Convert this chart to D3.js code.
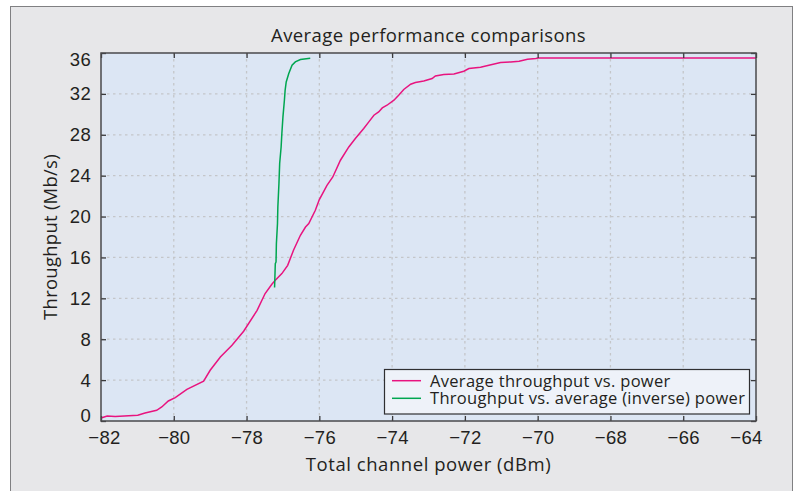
<!DOCTYPE html>
<html>
<head>
<meta charset="utf-8">
<script src="https://cdn.jsdelivr.net/npm/d3@7/dist/d3.min.js"></script>
<style>
  html, body { margin: 0; padding: 0; background: #ffffff; }
  svg { display: block; font-family: "Open Sans", "Noto Sans", sans-serif; }
</style>
</head>
<body>
<svg id="chart" width="797" height="491"></svg>
<script>
// Average throughput vs. total channel power
const powerAvg = [-82.00, -81.83, -81.61, -80.99, -80.79, -80.47, -80.33, -80.15, -79.96, -79.64,
  -79.18, -79.00, -78.72, -78.40, -78.08, -77.71, -77.49, -77.30, -77.21, -77.03,
  -76.87, -76.71, -76.52, -76.38, -76.29, -76.11, -76.00, -75.79, -75.63, -75.42,
  -75.19, -75.01, -74.78, -74.64, -74.50, -74.37, -74.27, -74.14, -73.95, -73.82,
  -73.68, -73.49, -73.36, -73.13, -72.90, -72.81, -72.58, -72.30, -72.03, -71.89,
  -71.57, -71.34, -71.02, -70.74, -70.51, -70.28, -70.05, -69.99, -64.00];
const throughputAvg = [0.30, 0.49, 0.43, 0.56, 0.78, 1.05, 1.37, 1.96, 2.29, 3.10,
  3.90, 4.96, 6.26, 7.41, 8.78, 10.83, 12.47, 13.40, 13.77, 14.42,
  15.23, 16.70, 18.17, 18.98, 19.32, 20.62, 21.66, 23.06, 23.87, 25.51,
  26.81, 27.63, 28.61, 29.26, 29.91, 30.23, 30.63, 30.89, 31.38, 31.87,
  32.43, 32.95, 33.11, 33.27, 33.50, 33.76, 33.89, 33.95, 34.22, 34.48,
  34.61, 34.80, 35.07, 35.13, 35.20, 35.39, 35.46, 35.52, 35.52];

// Throughput vs. average (inverse) power
const powerInv = [-77.23, -77.21, -77.19, -77.18, -77.15, -77.14, -77.11, -77.09, -77.05, -77.03,
  -77.00, -76.96, -76.94, -76.91, -76.84, -76.75, -76.66, -76.52, -76.25];
const throughputInv = [13.05, 15.40, 15.56, 17.36, 19.32, 20.94, 23.23, 25.19, 26.81, 28.12,
  29.75, 31.38, 32.36, 33.17, 33.99, 34.80, 35.13, 35.36, 35.49];

const xTicks = [-82, -80, -78, -76, -74, -72, -70, -68, -66, -64];
const yTicks = [0, 4, 8, 12, 16, 20, 24, 28, 32, 36];

const seriesNames = ["Average throughput vs. power", "Throughput vs. average (inverse) power"];
const seriesColors = ["#e8147f", "#00a650"];

const titleText = "Average performance comparisons";
const xLabel = "Total channel power (dBm)";
const yLabel = "Throughput (Mb/s)";

const svg = d3.select("#chart");
const W = 797, H = 491;
const plot = { left: 101, top: 53, right: 756, bottom: 421 };
const textColor = "#231f20";

// outer panel
svg.append("rect").attr("x", 0).attr("y", 0).attr("width", W).attr("height", H).attr("fill", "#ffffff");
svg.append("rect")
  .attr("x", 10.5).attr("y", 6.5).attr("width", 782).attr("height", 490)
  .attr("fill", "#e7e7e9").attr("stroke", "#808082").attr("stroke-width", 1);

const x = d3.scaleLinear().domain([-82, -64]).range([plot.left, plot.right]);
const y = d3.scaleLinear().domain([0, 36]).range([plot.bottom, plot.top]);

// plot background
svg.append("rect")
  .attr("x", plot.left).attr("y", plot.top)
  .attr("width", plot.right - plot.left).attr("height", plot.bottom - plot.top)
  .attr("fill", "#dce6f4");

// dotted grid
const grid = svg.append("g").attr("stroke", "#c4c6c9").attr("stroke-width", 1.3)
  .attr("stroke-dasharray", "2.5,3.5");
grid.selectAll(".gx").data(xTicks.slice(1, -1)).join("line")
  .attr("x1", d => x(d)).attr("x2", d => x(d))
  .attr("y1", plot.top).attr("y2", plot.bottom);
grid.selectAll(".gy").data(yTicks.slice(1, -1)).join("line")
  .attr("x1", plot.left).attr("x2", plot.right)
  .attr("y1", d => y(d)).attr("y2", d => y(d));

// series
const line = d3.line().x(d => x(d[0])).y(d => y(d[1]));
const avgData = d3.zip(powerAvg, throughputAvg);
const invData = d3.zip(powerInv, throughputInv);
svg.append("path").datum(avgData).attr("d", line)
  .attr("fill", "none").attr("stroke", seriesColors[0]).attr("stroke-width", 1.5);
svg.append("path").datum(invData).attr("d", line)
  .attr("fill", "none").attr("stroke", seriesColors[1]).attr("stroke-width", 1.5);

// axes with inward ticks on every side
function styleAxis(g) {
  g.select(".domain").remove();
  g.selectAll(".tick line").attr("stroke", "#3a3a3c").attr("stroke-width", 1.3);
  g.selectAll(".tick text").attr("fill", textColor).attr("font-size", 18.5)
    .attr("letter-spacing", 0.3);
}
const xAxis = svg.append("g").attr("transform", `translate(0,${plot.bottom})`)
  .call(d3.axisBottom(x).tickValues(xTicks).tickSize(-5).tickPadding(10).tickFormat(d3.format("d")))
  .call(styleAxis);
xAxis.selectAll(".tick text")
  .attr("dx", d => d === -82 ? 3 : d === -64 ? -10 : 0);

const yAxis = svg.append("g").attr("transform", `translate(${plot.left},0)`)
  .call(d3.axisLeft(y).tickValues(yTicks).tickSize(-5).tickPadding(10).tickFormat(d3.format("d")))
  .call(styleAxis);
yAxis.selectAll(".tick text")
  .attr("dy", d => d === 0 ? "0.0em" : d === 36 ? "0.66em" : "0.32em");

svg.append("g").attr("transform", `translate(0,${plot.top})`)
  .call(d3.axisTop(x).tickValues(xTicks).tickSize(-5).tickFormat(""))
  .call(styleAxis);
svg.append("g").attr("transform", `translate(${plot.right},0)`)
  .call(d3.axisRight(y).tickValues(yTicks).tickSize(-5).tickFormat(""))
  .call(styleAxis);

// plot frame
svg.append("rect")
  .attr("x", plot.left).attr("y", plot.top)
  .attr("width", plot.right - plot.left).attr("height", plot.bottom - plot.top)
  .attr("fill", "none").attr("stroke", "#4a4a4c").attr("stroke-width", 1.5);

// title and axis labels
svg.append("text").attr("x", (plot.left + plot.right) / 2).attr("y", 41.5)
  .attr("text-anchor", "middle").attr("font-size", 18.5).attr("letter-spacing", 0.4)
  .attr("fill", textColor).text(titleText);
svg.append("text").attr("x", (plot.left + plot.right) / 2).attr("y", 471)
  .attr("text-anchor", "middle").attr("font-size", 18.5).attr("letter-spacing", 0.55)
  .attr("fill", textColor).text(xLabel);
svg.append("text")
  .attr("transform", `translate(56.5,${(plot.top + plot.bottom) / 2}) rotate(-90)`)
  .attr("text-anchor", "middle").attr("font-size", 18.5).attr("letter-spacing", 0.25)
  .attr("fill", textColor).text(yLabel);

// legend: box, sample lines, and one text block holding both entries
const legendRow = 17.6, legendTop = 380.7;
const legend = svg.append("g");
legend.append("rect")
  .attr("x", 384.5).attr("y", 369.5).attr("width", 365).attr("height", 44.5)
  .attr("fill", "#eef2f9").attr("stroke", "#2f2f31").attr("stroke-width", 1.2);
legend.selectAll("line.sample").data(seriesNames).join("line")
  .attr("class", "sample")
  .attr("x1", 392).attr("x2", 421)
  .attr("y1", (d, i) => legendTop + i * legendRow).attr("y2", (d, i) => legendTop + i * legendRow)
  .attr("stroke", (d, i) => seriesColors[i]).attr("stroke-width", 1.5);
legend.append("text")
  .attr("font-size", 16.5).attr("letter-spacing", 0.3).attr("fill", textColor)
  .selectAll("tspan").data(seriesNames).join("tspan")
  .attr("x", 430).attr("y", (d, i) => legendTop + 6 + i * legendRow)
  .text(d => d);
</script>
</body>
</html>
